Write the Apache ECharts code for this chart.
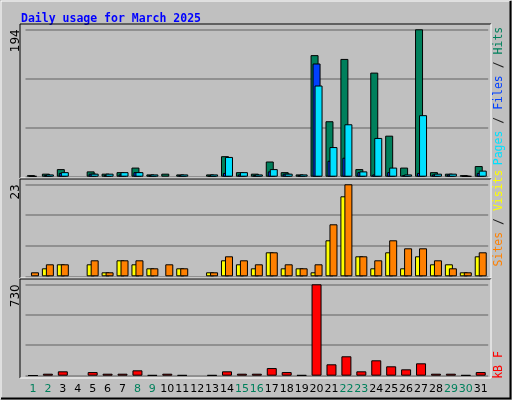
<!DOCTYPE html>
<html><head><meta charset="utf-8">
<script src="https://cdn.jsdelivr.net/npm/echarts@6/dist/echarts.min.js"></script>
<style>html,body{margin:0;background:#c0c0c0}#c{width:512px;height:400px}</style>
</head><body><div id="c"></div>
<script>
const days = Array.from({ length: 31 }, (_, i) => String(i + 1));
const weekend = [1, 2, 8, 9, 15, 16, 22, 23, 29, 30];
const hits  = [2,4,10,0,7,4,6,12,3,4,3,0,3,27,6,4,20,6,3,160,73,155,10,137,54,12,194,6,4,2,14];
const files = [1,2,5,0,4,2,3,6,2,0,2,0,1,5,3,2,7,4,2,149,21,25,6,3,6,2,5,3,3,1,5];
const pages = [0,3,6,0,4,4,6,6,3,0,3,0,3,26,6,3,10,4,3,120,39,69,7,51,12,3,81,4,4,1,8];
const visits = [0,2,3,0,3,1,4,3,2,0,2,0,1,4,3,2,6,2,2,1,9,20,5,2,6,2,5,3,3,1,5];
const sites  = [1,3,3,0,4,1,4,4,2,3,2,0,1,5,4,3,6,3,2,3,13,23,5,4,9,7,7,4,2,1,6];
const kbytes = [3,16,35,0,29,16,16,43,5,16,5,0,5,35,16,16,61,29,5,730,91,155,35,123,75,51,99,16,16,5,29];
const MAX = [194, 23, 730];

const MONO = 'DejaVu Sans Mono';
const GRIDS = [
  { left: 25.5, right: 23.8, top: 29.3, height: 147.4 },
  { left: 25.5, right: 23.8, top: 184.3, height: 92 },
  { left: 25.5, right: 23.8, top: 284.3, height: 91.4 },
];
// zero days draw no bar at all in the original
const bar = (name, data, axis, color, w, gap, z) => ({
  name, type: 'bar', data: data.map(v => v === 0 ? '-' : v), xAxisIndex: axis, yAxisIndex: axis,
  barWidth: w, barGap: gap, z,
  itemStyle: { color, borderColor: '#000', borderWidth: 1 },
  animation: false,
});
const frame = (y, h) => ({
  type: 'polyline', silent: true, z: 100,
  shape: { points: [[20, y + h], [20, y], [491, y]] },
  style: { stroke: '#000', fill: null, lineWidth: 1 },
});
const frameHi = (y, h) => ({
  type: 'polyline', silent: true, z: 100,
  shape: { points: [[20, y + h], [491, y + h], [491, y]] },
  style: { stroke: '#fff', fill: null, lineWidth: 1 },
});
const side = (y, parts) => ({
  type: 'text', x: 499, y, rotation: Math.PI / 2, z: 100,
  style: {
    text: parts.map(([t, k]) => `{${k}|${t}}`).join(''),
    font: `11.5px "${MONO}"`, align: 'center', verticalAlign: 'middle',
    rich: {
      h: { fill: '#00805c', font: `11.5px "${MONO}"` },
      f: { fill: '#0040ff', font: `11.5px "${MONO}"` },
      p: { fill: '#00e0ff', font: `11.5px "${MONO}"` },
      v: { fill: '#ffff00', font: `11.5px "${MONO}"` },
      s: { fill: '#ff8000', font: `11.5px "${MONO}"` },
      k: { fill: '#ff0000', font: `11.5px "${MONO}"` },
      b: { fill: '#202020', font: `11.5px "${MONO}"` },
    },
  },
});

const chart = echarts.init(document.getElementById('c'));
chart.setOption({
  backgroundColor: '#c0c0c0',
  animation: false,
  title: {
    text: 'Daily usage for March 2025', left: 16, top: 8,
    textStyle: { color: '#0000ff', fontFamily: MONO, fontWeight: 'bold', fontSize: 11.5 },
  },
  grid: GRIDS,
  xAxis: GRIDS.map((_, i) => ({
    type: 'category', gridIndex: i, data: days,
    axisLine: { show: false }, axisTick: { show: false },
    axisLabel: i < 2 ? { show: false } : {
      interval: 0, margin: 8, fontFamily: 'DejaVu Sans', fontSize: 11,
      color: (v) => weekend.includes(+v) ? '#00805c' : '#000',
    },
  })),
  yAxis: MAX.map((m, i) => ({
    type: 'value', gridIndex: i, min: 0, max: m, interval: m / 3,
    axisLine: { show: false }, axisTick: { show: false },
    splitLine: { lineStyle: { color: '#808080', width: 1.5 } },
    axisLabel: {
      rotate: 90, align: 'right', verticalAlign: 'middle', margin: 10,
      fontFamily: 'DejaVu Sans', fontSize: 12, color: '#000',
      formatter: v => Math.abs(v - m) < 1e-6 ? String(m) : '',
    },
  })),
  series: [
    bar('Hits', hits, 0, '#00805c', 8, '-75%', 2),
    bar('Files', files, 0, '#0040ff', 8, '-75%', 3),
    bar('Pages', pages, 0, '#00e0ff', 8, '-75%', 4),
    bar('Visits', visits, 1, '#ffff00', 8, '-50%', 2),
    bar('Sites', sites, 1, '#ff8000', 8, '-50%', 3),
    bar('kB F', kbytes, 2, '#ff0000', 10, '0%', 2),
  ],
  graphic: [
    { type: 'polyline', silent: true, shape: { points: [[1, 399], [1, 1], [510, 1]] }, style: { stroke: '#fff', fill: null } },
    { type: 'polyline', silent: true, shape: { points: [[1, 398.5], [510.5, 398.5], [510.5, 1]] }, style: { stroke: '#000', fill: null, lineWidth: 2 } },
    frame(24, 154), frameHi(24, 154),
    frame(179, 99), frameHi(179, 99),
    frame(279, 99), frameHi(279, 99),
    side(96, [['Pages', 'p'], [' / ', 'b'], ['Files', 'f'], [' / ', 'b'], ['Hits', 'h']]),
    side(218, [['Sites', 's'], [' / ', 'b'], ['Visits', 'v']]),
    side(365, [['kB F', 'k']]),
  ],
});
</script></body></html>
